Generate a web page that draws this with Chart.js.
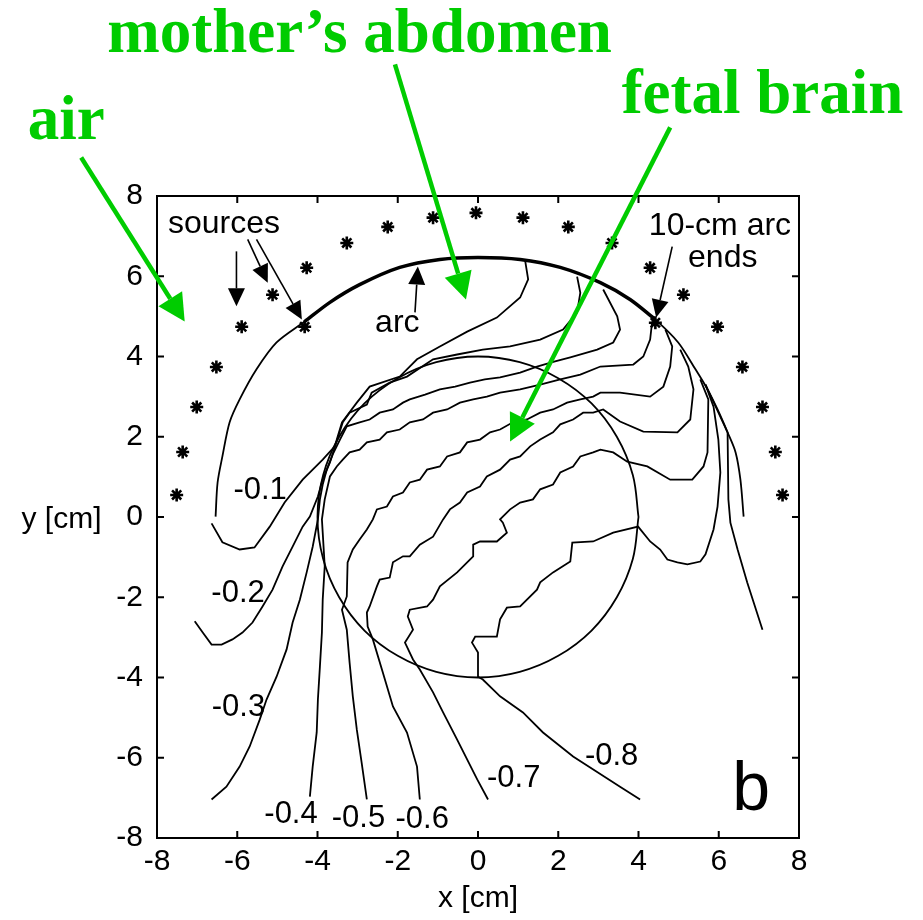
<!DOCTYPE html>
<html>
<head>
<meta charset="utf-8">
<script src="https://cdn.jsdelivr.net/npm/chart.js@4.4.0/dist/chart.umd.min.js"></script>
<style>
  html, body { margin: 0; padding: 0; background: #fff; }
  #wrap { width: 923px; height: 920px; }
</style>
</head>
<body>
<div id="wrap"><canvas id="fig" width="923" height="920"></canvas></div>
<script>
// source positions around the abdomen [cm]
const sourcePoints = [
  [-7.51, 0.55], [-7.36, 1.62], [-7.01, 2.74], [-6.52, 3.74], [-5.89, 4.74],
  [-5.12, 5.54], [-4.27, 6.21], [-3.27, 6.83], [-2.25, 7.23], [-1.12, 7.46],
  [-0.05, 7.58], [1.12, 7.46], [2.25, 7.23], [3.34, 6.83], [4.29, 6.21],
  [5.12, 5.54], [5.97, 4.74], [6.59, 3.74], [7.09, 2.74], [7.41, 1.62],
  [7.59, 0.55], [-4.32, 4.74], [4.42, 4.84]
];

// outline of the abdomen and the 10-cm detector arc
const abdomenEdge = [
  [-6.54, 0.01], [-6.49, 0.86], [-6.37, 1.51], [-6.19, 2.36], [-5.94, 2.93],
  [-5.52, 3.68], [-5.02, 4.35], [-4.32, 4.87], [-3.69, 5.35], [-2.95, 5.79],
  [-1.95, 6.22], [-0.95, 6.42], [0, 6.47], [1.05, 6.42], [2.05, 6.22],
  [3.05, 5.84], [3.79, 5.42], [4.42, 4.92], [4.99, 4.35], [5.42, 3.68],
  [5.72, 3.18], [5.97, 2.68], [6.22, 2.11], [6.42, 1.61], [6.54, 0.93], [6.62, 0.01]
];
const arcSpan = [
  [-4.32, 4.87], [-3.69, 5.35], [-2.95, 5.79], [-1.95, 6.22], [-0.95, 6.42],
  [0, 6.47], [1.05, 6.42], [2.05, 6.22], [3.05, 5.84], [3.79, 5.42], [4.42, 4.92]
];

// fetal head outline
const brainEdge = [
  [4, 0], [3.86, 1.04], [3.46, 2], [2.83, 2.83], [2, 3.46], [1.04, 3.86], [0, 4],
  [-1.04, 3.86], [-2, 3.46], [-2.83, 2.83], [-3.46, 2], [-3.86, 1.04], [-4, 0],
  [-3.86, -1.04], [-3.46, -2], [-2.83, -2.83], [-2, -3.46], [-1.04, -3.86], [0, -4],
  [1.04, -3.86], [2, -3.46], [2.83, -2.83], [3.46, -2], [3.86, -1.04], [4, 0]
];

// iso-lines of the sensitivity map
const level01 = [
  [-6.64, -0.16], [-6.37, -0.63], [-5.94, -0.81], [-5.57, -0.76], [-5.19, -0.24],
  [-4.82, 0.36], [-4.37, 0.93], [-3.87, 1.43], [-3.57, 1.76], [-3.39, 2.36],
  [-3.02, 2.85], [-2.70, 3.25], [-1.95, 3.50], [-1.52, 3.93], [-0.95, 4.25],
  [-0.27, 4.62], [0.47, 4.97], [1.05, 5.47], [1.25, 5.92], [1.17, 6.42]
];
const level02 = [
  [-7.06, -2.60], [-6.86, -2.88], [-6.64, -3.18], [-6.39, -3.18], [-6.12, -3.05],
  [-5.87, -2.88], [-5.62, -2.63], [-5.37, -2.23], [-5.12, -1.81], [-4.87, -1.23],
  [-4.62, -0.74], [-4.37, -0.24], [-4.19, 0.01], [-3.99, 0.51], [-3.87, 0.94],
  [-3.69, 1.36], [-3.37, 2.36], [-3.20, 2.60], [-2.77, 2.80], [-2.65, 3.10],
  [-2.20, 3.35], [-1.77, 3.50], [-1.12, 3.93], [-0.52, 4.05], [0.12, 4.17],
  [0.80, 4.25], [1.55, 4.42], [2.12, 4.67], [2.47, 5.10], [2.55, 5.59], [2.47, 5.99]
];
const level03 = [
  [-6.64, -7.04], [-6.27, -6.72], [-5.94, -6.22], [-5.69, -5.72], [-5.44, -5.05],
  [-5.27, -4.55], [-5.02, -3.98], [-4.77, -3.30], [-4.62, -2.63], [-4.44, -2.06],
  [-4.27, -1.38], [-4.12, -0.74], [-3.99, -0.06], [-3.94, 0.44], [-3.87, 0.81],
  [-3.77, 1.18], [-3.62, 1.56], [-3.44, 1.93], [-3.27, 2.26], [-2.95, 2.36],
  [-2.70, 2.43], [-2.45, 2.60], [-2.12, 2.68], [-1.87, 2.85], [-1.70, 2.93],
  [-1.32, 3.05], [-0.95, 3.18], [-0.57, 3.25], [-0.20, 3.35], [0.17, 3.43],
  [0.55, 3.48], [1.05, 3.60], [1.47, 3.75], [1.92, 3.88], [2.30, 3.98],
  [2.97, 4.17], [3.37, 4.35], [3.54, 4.67], [3.47, 5.00], [3.12, 5.67]
];
const level04 = [
  [-4.19, -6.97], [-4.12, -6.22], [-4.02, -5.37], [-3.99, -4.55], [-3.94, -3.73],
  [-3.89, -2.88], [-3.87, -2.06], [-3.82, -1.23], [-3.87, -0.39], [-3.89, -0.06],
  [-3.82, 0.44], [-3.69, 1.01], [-3.52, 1.26], [-3.37, 1.43], [-3.20, 1.61],
  [-2.95, 1.68], [-2.77, 1.86], [-2.45, 1.93], [-2.27, 2.11], [-1.95, 2.18],
  [-1.70, 2.36], [-1.37, 2.43], [-1.12, 2.60], [-0.77, 2.68], [-0.45, 2.85],
  [-0.12, 2.93], [0.22, 3.00], [0.55, 3.10], [1.05, 3.18], [1.55, 3.30],
  [2.05, 3.43], [2.55, 3.55], [3.05, 3.75], [3.87, 3.80], [4.12, 4.00],
  [4.29, 4.42], [4.34, 4.87]
];
const level05 = [
  [-2.77, -7.04], [-2.90, -6.12], [-3.02, -5.30], [-3.12, -4.47], [-3.20, -3.63],
  [-3.27, -2.81], [-3.39, -2.31], [-3.27, -1.98], [-3.25, -1.13], [-3.12, -0.81],
  [-2.95, -0.56], [-2.77, -0.31], [-2.62, -0.06], [-2.52, 0.19], [-2.27, 0.26],
  [-2.12, 0.51], [-1.87, 0.61], [-1.70, 0.86], [-1.45, 0.93], [-1.27, 1.18],
  [-0.95, 1.26], [-0.77, 1.51], [-0.45, 1.61], [-0.27, 1.86], [0.05, 1.93],
  [0.30, 2.11], [0.55, 2.18], [0.87, 2.36], [1.22, 2.43], [1.55, 2.60],
  [1.87, 2.68], [2.22, 2.85], [2.55, 2.93], [2.87, 3.00], [3.05, 3.10],
  [3.54, 3.10], [4.29, 3.00], [4.62, 3.25], [4.79, 3.75], [4.84, 4.25], [4.67, 4.67]
];
const level06 = [
  [-1.45, -7.04], [-1.52, -6.22], [-1.77, -5.37], [-2.12, -4.72], [-2.37, -3.88],
  [-2.62, -3.05], [-2.75, -2.73], [-2.77, -2.38], [-2.70, -2.23], [-2.52, -1.73],
  [-2.45, -1.56], [-2.20, -1.51], [-2.12, -1.13], [-1.87, -0.98], [-1.70, -0.98],
  [-1.45, -0.69], [-1.12, -0.49], [-0.87, -0.06], [-0.70, 0.19], [-0.45, 0.36],
  [-0.27, 0.61], [0.05, 0.76], [0.22, 1.01], [0.55, 1.18], [0.80, 1.43],
  [1.05, 1.51], [1.30, 1.76], [1.55, 1.93], [1.87, 2.11], [2.05, 2.31],
  [2.37, 2.43], [2.62, 2.60], [2.87, 2.60], [3.12, 2.68], [3.54, 2.38],
  [4.12, 2.13], [4.97, 2.11], [5.29, 2.43], [5.37, 3.18], [5.24, 3.75], [5.04, 4.17]
];
const level07 = [
  [0.25, -7.04], [-0.02, -6.54], [-0.52, -5.55], [-0.87, -4.87], [-1.12, -4.37],
  [-1.45, -3.80], [-1.62, -3.55], [-1.82, -3.13], [-1.62, -2.81], [-1.75, -2.48],
  [-1.70, -2.31], [-1.27, -2.23], [-1.12, -2.06], [-0.95, -1.73], [-0.52, -1.38],
  [-0.27, -1.13], [-0.12, -0.98], [-0.12, -0.69], [0.05, -0.61], [0.47, -0.61],
  [0.72, -0.39], [0.62, -0.14], [0.55, -0.06], [0.80, 0.19], [1.05, 0.36],
  [1.37, 0.44], [1.55, 0.69], [1.87, 0.81], [2.05, 1.11], [2.37, 1.26],
  [2.55, 1.51], [2.87, 1.61], [3.05, 1.68], [3.37, 1.61], [3.72, 1.38],
  [4.22, 1.26], [4.79, 0.93], [5.34, 0.93], [5.62, 1.26], [5.72, 1.61],
  [5.74, 2.93], [5.54, 3.43]
];
const level08 = [
  [4.04, -7.04], [3.54, -6.72], [2.37, -5.97], [1.62, -5.37], [1.12, -4.87],
  [0.55, -4.47], [0.12, -4.05], [0, -3.98], [0, -3.38], [-0.15, -3.13],
  [-0.07, -2.98], [0.47, -2.98], [0.55, -2.55], [0.72, -2.26], [1.05, -2.23],
  [1.47, -1.81], [1.55, -1.63], [1.87, -1.38], [2.30, -1.11], [2.35, -0.64],
  [2.87, -0.61], [3.37, -0.39], [3.99, -0.24], [4.29, -0.61], [4.54, -0.81],
  [4.72, -1.06], [4.97, -1.13], [5.22, -1.18], [5.54, -1.11], [5.67, -0.93],
  [5.87, -0.31], [5.97, 0.26], [6.04, 1.11], [5.99, 1.93], [5.87, 2.75], [5.67, 3.30]
];
const level09 = [
  [5.67, 3.30], [6.22, 2.11], [6.24, 0.44], [6.29, -0.14], [6.47, -0.81],
  [6.71, -1.63], [7.09, -2.81]
];

const axisTicks = [-8, -6, -4, -2, 0, 2, 4, 6, 8];

// text placed in plot units
const levelNotes = [
  ['-0.1', -5.43, 0.44], ['-0.2', -5.98, -2.11], ['-0.3', -5.97, -4.97],
  ['-0.4', -4.66, -7.62], ['-0.5', -2.98, -7.72], ['-0.6', -1.39, -7.74],
  ['-0.7', 0.89, -6.74], ['-0.8', 3.33, -6.17]
];
const blackNotes = [
  ['sources', -6.33, 7.09], ['arc', -2.01, 4.60], ['10-cm arc', 6.03, 7.04], ['ends', 6.10, 6.24]
];
const greenNotes = [
  ['mother\u2019s abdomen', -2.95, 11.60], ['fetal brain', 7.09, 10.08], ['air', -10.26, 9.41]
];
const blackArrows = [
  [-6.02, 6.62, -6.02, 5.25], [-5.74, 6.92, -5.24, 5.84], [-5.52, 6.92, -4.39, 4.92],
  [-1.57, 5.10, -1.50, 6.24], [4.84, 6.74, 4.44, 4.97]
];
const greenArrows = [
  [-9.89, 8.96, -7.31, 4.87], [-2.07, 11.28, -0.30, 5.42], [4.79, 9.71, 0.80, 1.88]
];

const toXY = pts => pts.map(p => ({ x: p[0], y: p[1] }));

function lineSet(pts, width, tension) {
  return {
    type: 'scatter', data: toXY(pts), showLine: true, pointRadius: 0,
    borderColor: '#000', borderWidth: width, tension: tension || 0, fill: false
  };
}

function arrow(ctx, x0, y0, x1, y1, head, half) {
  const ang = Math.atan2(y1 - y0, x1 - x0);
  const bx = x1 - head * Math.cos(ang), by = y1 - head * Math.sin(ang);
  ctx.beginPath(); ctx.moveTo(x0, y0); ctx.lineTo(bx, by); ctx.stroke();
  ctx.beginPath(); ctx.moveTo(x1, y1);
  ctx.lineTo(bx + half * Math.sin(ang), by - half * Math.cos(ang));
  ctx.lineTo(bx - half * Math.sin(ang), by + half * Math.cos(ang));
  ctx.closePath(); ctx.fill();
}

const decorations = {
  id: 'decorations',
  afterDraw(chart) {
    const { ctx, chartArea: a, scales } = chart;
    const px = v => scales.x.getPixelForValue(v);
    const py = v => scales.y.getPixelForValue(v);
    ctx.save();

    // frame with inward ticks
    ctx.strokeStyle = '#000'; ctx.lineWidth = 2;
    ctx.strokeRect(a.left, a.top, a.right - a.left, a.bottom - a.top);
    ctx.beginPath();
    axisTicks.forEach(v => {
      ctx.moveTo(px(v), a.bottom); ctx.lineTo(px(v), a.bottom - 7);
      ctx.moveTo(px(v), a.top); ctx.lineTo(px(v), a.top + 7);
      ctx.moveTo(a.left, py(v)); ctx.lineTo(a.left + 7, py(v));
      ctx.moveTo(a.right, py(v)); ctx.lineTo(a.right - 7, py(v));
    });
    ctx.stroke();

    // axis titles
    ctx.fillStyle = '#000';
    ctx.font = '30px "Liberation Sans", Arial, sans-serif';
    ctx.textAlign = 'center'; ctx.textBaseline = 'middle';
    ctx.fillText('x [cm]', px(0), py(-9.51));
    ctx.fillText('y [cm]', px(-10.38), py(-0.08));

    // level labels and notes
    ctx.textBaseline = 'alphabetic';
    ctx.font = '31px "Liberation Sans", Arial, sans-serif';
    levelNotes.forEach(n => ctx.fillText(n[0], px(n[1]), py(n[2])));
    ctx.font = '32px "Liberation Sans", Arial, sans-serif';
    blackNotes.forEach(n => ctx.fillText(n[0], px(n[1]), py(n[2])));
    ctx.font = '68px "Liberation Sans", Arial, sans-serif';
    ctx.fillText('b', px(6.81), py(-7.29));

    ctx.strokeStyle = '#000'; ctx.fillStyle = '#000'; ctx.lineWidth = 1.6;
    blackArrows.forEach(r => arrow(ctx, px(r[0]), py(r[1]), px(r[2]), py(r[3]), 18, 8.5));

    // green call-outs
    ctx.fillStyle = '#00cc00'; ctx.strokeStyle = '#00cc00'; ctx.lineWidth = 4.5;
    greenArrows.forEach(r => arrow(ctx, px(r[0]), py(r[1]), px(r[2]), py(r[3]), 27, 14));
    ctx.font = 'bold 63px "Liberation Serif", "Times New Roman", serif';
    greenNotes.forEach(n => ctx.fillText(n[0], px(n[1]), py(n[2])));
    ctx.restore();
  }
};

new Chart(document.getElementById('fig'), {
  type: 'scatter',
  data: {
    datasets: [
      {
        type: 'scatter', data: toXY(sourcePoints), pointStyle: 'star',
        pointRadius: 6.5, borderColor: '#000', borderWidth: 2.6, showLine: false
      },
      lineSet(arcSpan, 3.5, 0.3),
      lineSet(abdomenEdge, 1.8, 0.3),
      lineSet(brainEdge, 1.8, 0.35),
      lineSet(level01, 1.8), lineSet(level02, 1.8), lineSet(level03, 1.8),
      lineSet(level04, 1.8), lineSet(level05, 1.8), lineSet(level06, 1.8),
      lineSet(level07, 1.8), lineSet(level08, 1.8), lineSet(level09, 1.8)
    ]
  },
  options: {
    responsive: false,
    animation: false,
    layout: { padding: { left: 0, top: 196, right: 124, bottom: 0 } },
    plugins: { legend: { display: false }, tooltip: { enabled: false } },
    scales: {
      x: {
        type: 'linear', min: -8, max: 8,
        grid: { display: false, drawTicks: false }, border: { display: false },
        ticks: { stepSize: 2, padding: 6, color: '#000', font: { size: 30, family: '"Liberation Sans", Arial, sans-serif' } },
        afterFit: s => { s.height = 82; }
      },
      y: {
        type: 'linear', min: -8, max: 8,
        grid: { display: false, drawTicks: false }, border: { display: false },
        ticks: { stepSize: 2, padding: 14, color: '#000', font: { size: 30, family: '"Liberation Sans", Arial, sans-serif' } },
        afterFit: s => { s.width = 157; }
      }
    }
  },
  plugins: [decorations]
});
</script>
</body>
</html>
